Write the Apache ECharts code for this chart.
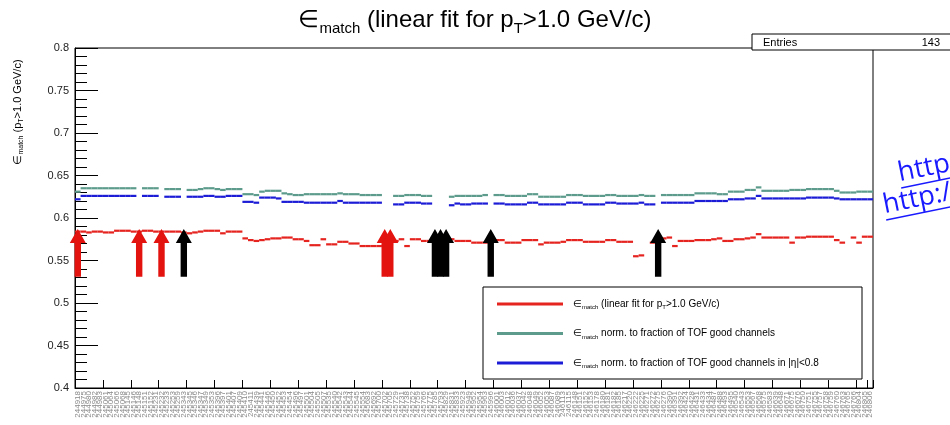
<!DOCTYPE html>
<html>
<head>
<meta charset="utf-8">
<script src="https://cdn.jsdelivr.net/npm/echarts@6/dist/echarts.min.js"></script>
<style>
  html, body { margin: 0; padding: 0; background: #fff; }
  #chart { width: 950px; height: 425px; }
</style>
</head>
<body>
<div id="chart"></div>
<script>
// Run numbers on the x axis (one bin per run)
const runs = [
  244918, 244975, 244980, 244982, 244983, 245061, 245064, 245066, 245068, 245145,
  245146, 245148, 245151, 245152, 245231, 245232, 245233, 245253, 245259, 245343,
  245345, 245346, 245347, 245349, 245353, 245396, 245397, 245401, 245407, 245409,
  245410, 245411, 245439, 245441, 245446, 245450, 245452, 245453, 245454, 245496,
  245497, 245501, 245504, 245505, 245507, 245535, 245540, 245542, 245543, 245544,
  245545, 245554, 245683, 245692, 245700, 245702, 245705, 245729, 245731, 245738,
  245752, 245759, 245766, 245775, 245785, 245793, 245829, 245831, 245833, 245923,
  245949, 245952, 245954, 245963, 245996, 246001, 246003, 246012, 246036, 246037,
  246042, 246048, 246049, 246052, 246053, 246087, 246089, 246113, 246115, 246148,
  246151, 246152, 246153, 246178, 246180, 246181, 246182, 246185, 246217, 246220,
  246222, 246225, 246271, 246272, 246275, 246276, 246390, 246391, 246392, 246424,
  246428, 246431, 246433, 246434, 246487, 246488, 246493, 246495, 246540, 246543,
  246553, 246567, 246568, 246575, 246583, 246639, 246648, 246671, 246675, 246676,
  246750, 246751, 246755, 246757, 246758, 246759, 246760, 246763, 246765, 246766,
  246804, 246805, 246806
];

// Matching efficiency, linear fit for pT > 1.0 GeV/c
const effFit = [
  0.584, 0.584, 0.583, 0.584, 0.584, 0.583, 0.583, 0.585, 0.585, 0.585,
  0.584, 0.584, 0.585, 0.585, 0.584, 0.584, 0.584, 0.584, 0.584, 0.583,
  0.582, 0.583, 0.584, 0.585, 0.585, 0.585, 0.582, 0.584, 0.584, 0.584,
  0.576, 0.574, 0.573, 0.574, 0.575, 0.576, 0.576, 0.577, 0.577, 0.575,
  0.575, 0.573, 0.568, 0.568, 0.575, 0.569, 0.569, 0.572, 0.572, 0.570,
  0.570, 0.567, 0.567, 0.567, 0.567, 0.568, 0.569, 0.573, 0.575, 0.567,
  0.575, 0.575, 0.573, 0.573, 0.573, 0.572, 0.572, 0.575, 0.573, 0.573,
  0.573, 0.571, 0.571, 0.571, 0.572, 0.574, 0.574, 0.571, 0.571, 0.571,
  0.574, 0.574, 0.574, 0.569, 0.571, 0.571, 0.571, 0.572, 0.574, 0.574,
  0.574, 0.572, 0.572, 0.572, 0.572, 0.574, 0.574, 0.572, 0.572, 0.572,
  0.555, 0.556, null,  0.571, 0.573, 0.576, 0.577, 0.567, 0.573, 0.573,
  0.573, 0.574, 0.574, 0.574, 0.575, 0.576, 0.573, 0.573, 0.575, 0.575,
  0.576, 0.577, 0.581, 0.577, 0.577, 0.577, 0.577, 0.577, 0.571, 0.577,
  0.577, 0.578, 0.578, 0.578, 0.578, 0.578, 0.574, 0.571, null,  0.577,
  0.571, 0.578, 0.578
];

// Normalised to the fraction of TOF good channels
const effNormTOF = [
  0.631, 0.635, 0.635, 0.635, 0.635, 0.635, 0.635, 0.635, 0.635, 0.635,
  0.635, null,  0.635, 0.635, 0.635, null,  0.634, 0.634, 0.634, null,
  0.633, 0.633, 0.634, 0.635, 0.635, 0.634, 0.633, 0.634, 0.634, 0.634,
  0.628, 0.628, 0.627, 0.631, 0.632, 0.632, 0.632, 0.629, 0.628, 0.627,
  0.627, 0.628, 0.628, 0.628, 0.628, 0.628, 0.628, 0.629, 0.628, 0.628,
  0.628, 0.627, 0.627, 0.627, 0.627, null,  null,  0.626, 0.626, 0.627,
  0.627, 0.627, 0.626, 0.626, null,  null,  null,  0.625, 0.626, 0.626,
  0.626, 0.626, 0.626, 0.627, null,  0.627, 0.627, 0.626, 0.626, 0.626,
  0.626, 0.628, 0.628, 0.625, 0.625, 0.625, 0.625, 0.625, 0.627, 0.627,
  0.627, 0.626, 0.626, 0.626, 0.626, 0.627, 0.627, 0.626, 0.626, 0.626,
  0.626, 0.627, 0.626, 0.626, null,  0.627, 0.627, 0.627, 0.627, 0.627,
  0.627, 0.629, 0.629, 0.629, 0.629, 0.628, 0.628, 0.631, 0.631, 0.631,
  0.633, 0.633, 0.636, 0.632, 0.632, 0.632, 0.632, 0.632, 0.633, 0.633,
  0.633, 0.634, 0.634, 0.634, 0.634, 0.634, 0.632, 0.630, 0.630, 0.630,
  0.631, 0.631, 0.631
];

// Normalised to the fraction of TOF good channels in |eta| < 0.8
const effNormEta = [
  0.622, 0.626, 0.626, 0.626, 0.626, 0.626, 0.626, 0.626, 0.626, 0.626,
  0.626, null,  0.626, 0.626, 0.626, null,  0.625, 0.625, 0.625, null,
  0.625, 0.625, 0.625, 0.626, 0.626, 0.625, 0.625, 0.626, 0.626, 0.626,
  0.619, 0.619, 0.618, 0.624, 0.624, 0.624, 0.623, 0.619, 0.619, 0.619,
  0.619, 0.618, 0.618, 0.618, 0.618, 0.618, 0.618, 0.620, 0.618, 0.618,
  0.618, 0.618, 0.618, 0.618, 0.618, null,  null,  0.616, 0.616, 0.618,
  0.618, 0.618, 0.617, 0.617, null,  null,  null,  0.615, 0.617, 0.616,
  0.616, 0.617, 0.617, 0.617, null,  0.617, 0.617, 0.616, 0.616, 0.616,
  0.616, 0.618, 0.618, 0.616, 0.616, 0.616, 0.616, 0.616, 0.618, 0.618,
  0.618, 0.616, 0.616, 0.616, 0.616, 0.618, 0.618, 0.617, 0.617, 0.617,
  0.617, 0.618, 0.616, 0.616, null,  0.618, 0.618, 0.618, 0.618, 0.618,
  0.618, 0.620, 0.620, 0.620, 0.620, 0.620, 0.620, 0.622, 0.622, 0.622,
  0.623, 0.623, 0.626, 0.623, 0.623, 0.623, 0.623, 0.623, 0.623, 0.623,
  0.623, 0.624, 0.624, 0.624, 0.624, 0.624, 0.623, 0.622, 0.622, 0.622,
  0.622, 0.622, 0.622
];

// Flagged runs (bin index) and the arrow span in efficiency units
const flaggedRed = [0, 11, 15, 55, 56];
const flaggedBlack = [19, 64, 65, 66, 74, 104];
const arrowFrom = 0.531;
const arrowTo = 0.587;

const FONT = 'Liberation Sans, Arial, sans-serif';
const RED = '#e5231f';
const TEAL = '#5d9c8c';
const BLUE = '#1c1cd6';

function binPoints(values) {
  const pts = [];
  values.forEach((v, i) => { if (v !== null) pts.push([i, v]); });
  return pts;
}

function histSeries(name, values, color) {
  return {
    name: name,
    type: 'custom',
    data: binPoints(values),
    encode: { x: 0, y: 1 },
    renderItem: function (params, api) {
      const c = api.coord([api.value(0), api.value(1)]);
      const w = api.size([1, 0])[0];
      return {
        type: 'line',
        shape: { x1: c[0] - w / 2, y1: c[1], x2: c[0] + w / 2, y2: c[1] },
        style: { stroke: color, lineWidth: 2.2 }
      };
    }
  };
}

function arrowSeries(bins, color) {
  return {
    type: 'custom',
    data: bins.map(b => [b, arrowFrom, arrowTo]),
    encode: { x: 0, y: [1, 2] },
    z: 5,
    renderItem: function (params, api) {
      const base = api.coord([api.value(0), api.value(1)]);
      const tip = api.coord([api.value(0), api.value(2)]);
      const x = base[0], sw = 3.2, hw = 8, hl = 14;
      const hy = tip[1] + hl;
      return {
        type: 'polygon',
        shape: { points: [
          [x - sw, base[1]], [x - sw, hy], [x - hw, hy], [x, tip[1]],
          [x + hw, hy], [x + sw, hy], [x + sw, base[1]]
        ] },
        style: { fill: color }
      };
    }
  };
}

const effRich = (big, small, y) => ({
  e: { fontFamily: FONT, fontSize: big, fontWeight: 'normal', color: '#000', lineHeight: y },
  t: { fontFamily: FONT, fontSize: big, fontWeight: 'normal', color: '#000', lineHeight: y },
  s: { fontFamily: FONT, fontSize: small, fontWeight: 'normal', color: '#000', lineHeight: small, verticalAlign: 'bottom' }
});

const legendRows = [
  { color: RED,  text: '{e|∈}{s|match}{t| (linear fit for p}{s|T}{t|>1.0 GeV/c)}' },
  { color: TEAL, text: '{e|∈}{s|match}{t| norm. to fraction of TOF good channels}' },
  { color: BLUE, text: '{e|∈}{s|match}{t| norm. to fraction of TOF good channels in |η|<0.8}' }
];

const legendElems = [
  { type: 'rect', shape: { x: 483, y: 287, width: 379, height: 92 },
    style: { fill: '#fff', stroke: '#000', lineWidth: 1 }, z: 10 }
];
legendRows.forEach((r, k) => {
  const y = 304 + k * 29.5;
  legendElems.push({ type: 'line', shape: { x1: 497, y1: y, x2: 563, y2: y },
    style: { stroke: r.color, lineWidth: 3 }, z: 11 });
  legendElems.push({ type: 'text', x: 573, y: y, z: 11,
    style: { text: r.text, rich: effRich(10, 6, 13), verticalAlign: 'middle', align: 'left' } });
});

const chart = echarts.init(document.getElementById('chart'));
chart.setOption({
  backgroundColor: '#fff',
  animation: false,
  title: {
    text: '{e|∈}{s|match}{t| (linear fit for p}{s|T}{t|>1.0 GeV/c)}',
    left: 'center',
    top: -1,
    textStyle: { fontWeight: 'normal', rich: effRich(24, 15, 32) }
  },
  grid: { left: 75, right: 77, top: 48, bottom: 37, show: true, borderColor: '#000', borderWidth: 1, backgroundColor: '#fff' },
  xAxis: {
    type: 'category',
    data: runs,
    boundaryGap: true,
    axisLine: { lineStyle: { color: '#000', width: 1 } },
    axisTick: { show: true, inside: true, length: 8, interval: 4, lineStyle: { color: '#000' } },
    axisLabel: { interval: 0, rotate: 90, fontSize: 8, color: '#888', margin: 3, fontFamily: FONT },
    splitLine: { show: false }
  },
  yAxis: {
    type: 'value',
    min: 0.4,
    max: 0.8,
    interval: 0.05,
    axisLine: { show: true, lineStyle: { color: '#000', width: 1 } },
    axisTick: { show: true, inside: true, length: 23, lineStyle: { color: '#000' } },
    minorTick: { show: true, splitNumber: 5, length: 12, lineStyle: { color: '#000' } },
    axisLabel: { fontSize: 11, color: '#222', margin: 6, fontFamily: FONT },
    splitLine: { show: false }
  },
  series: [
    histSeries('fit', effFit, RED),
    histSeries('normTOF', effNormTOF, TEAL),
    histSeries('normEta', effNormEta, BLUE),
    arrowSeries(flaggedRed, '#e3130f'),
    arrowSeries(flaggedBlack, '#000')
  ],
  graphic: [
    // y-axis title
    { type: 'text', x: 18, y: 112, rotation: Math.PI / 2,
      style: { text: '{e|∈}{s|match}{t| (p}{s|T}{t|>1.0 GeV/c)}', rich: effRich(11, 7, 14), align: 'center', verticalAlign: 'middle' } },
    // statistics box
    { type: 'rect', shape: { x: 752, y: 34, width: 210, height: 16 }, style: { fill: '#fff', stroke: '#000', lineWidth: 1 }, z: 10 },
    { type: 'text', x: 763, y: 43, z: 11, style: { text: 'Entries', font: '11px ' + FONT, fill: '#000', verticalAlign: 'middle' } },
    { type: 'text', x: 940, y: 43, z: 11, style: { text: '143', font: '11px ' + FONT, fill: '#000', align: 'right', verticalAlign: 'middle' } },
    // legend
    ...legendElems,
    // hyperlinks at the right edge
    { type: 'group', x: 901, y: 187, rotation: 0.2, children: [
      { type: 'text', x: 0, y: 0, style: { text: 'http://', font: '27px Open Sans, sans-serif', fill: '#1a1aff', verticalAlign: 'bottom' } },
      { type: 'line', shape: { x1: 0, y1: 1, x2: 120, y2: 1 }, style: { stroke: '#1a1aff', lineWidth: 1.5 } }
    ] },
    { type: 'group', x: 886, y: 219, rotation: 0.2, children: [
      { type: 'text', x: 0, y: 0, style: { text: 'http://', font: '27px Open Sans, sans-serif', fill: '#1a1aff', verticalAlign: 'bottom' } },
      { type: 'line', shape: { x1: 0, y1: 1, x2: 120, y2: 1 }, style: { stroke: '#1a1aff', lineWidth: 1.5 } }
    ] }
  ]
});
</script>
</body>
</html>
